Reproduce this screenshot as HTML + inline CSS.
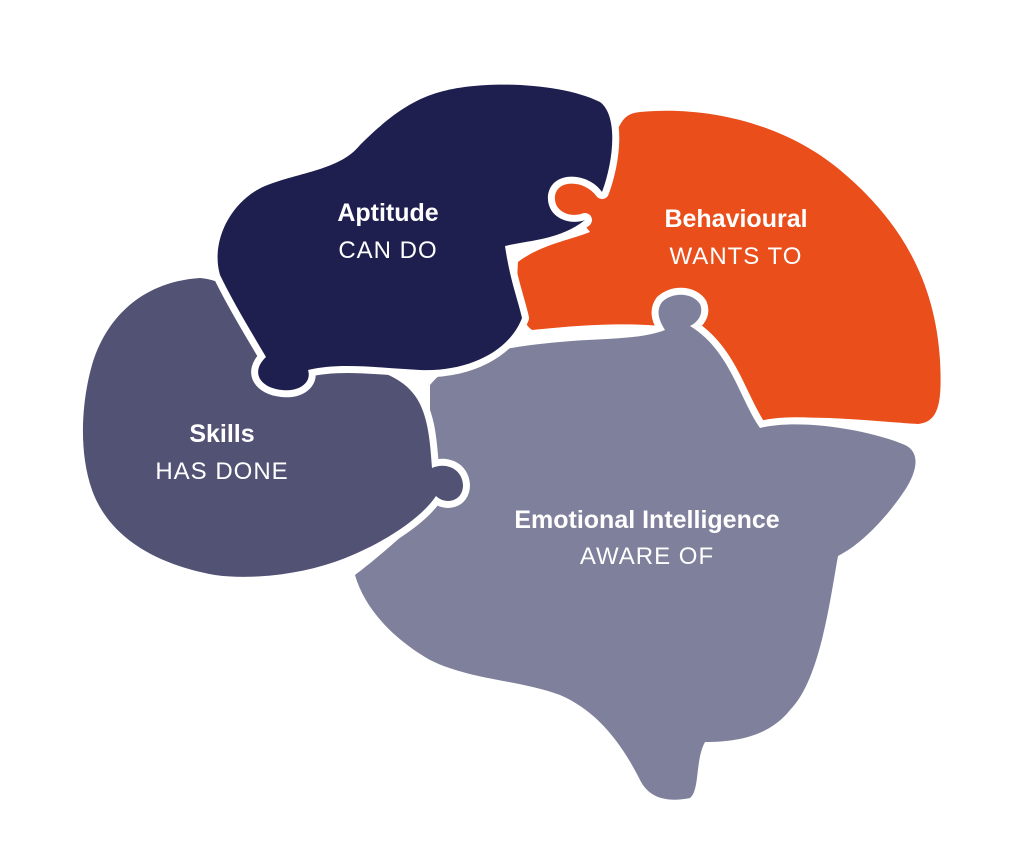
<!DOCTYPE html>
<html><head><meta charset="utf-8"><style>
html,body{margin:0;padding:0;background:#fff;}
svg{display:block;}
.t{font-family:"Liberation Sans",sans-serif;fill:#fff;text-anchor:middle;}
.b{font-weight:bold;font-size:25px;}
.r{font-size:24px;letter-spacing:1px;}
</style></head><body>
<svg width="1024" height="865" viewBox="0 0 1024 865">
<g stroke="#fff" stroke-width="14" stroke-linejoin="round" paint-order="stroke">
<path fill="#e94e1b" d="M640 112 C700 106 780 120 840 170 C900 220 935 280 940 360 C942 400 940 422 918 424 C880 422 800 412 758 422 C740 395 728 350 692 322 C704 316 706 304 696 298 C686 290 666 295 660 305 C657 315 664 322 660 326 C620 322 570 326 532 330 C518 320 516 290 518 262 C540 245 570 240 590 232 C580 215 545 220 545 195 C545 170 580 168 595 190 C605 170 610 140 620 125 C625 115 632 113 640 112 Z"/>
<path fill="#7f809c" d="M430 385 C450 360 490 348 560 342 C600 338 640 340 665 330 C660 322 655 312 662 302 C672 292 692 292 700 304 C704 314 698 322 690 326 C730 350 740 400 760 428 C800 418 870 430 905 445 C920 452 918 470 905 490 C885 520 860 545 838 556 C830 600 820 680 790 710 C770 735 740 742 705 742 C695 760 700 790 690 798 C670 802 650 800 640 780 C620 740 595 710 560 695 C520 680 470 680 430 660 C395 640 365 610 355 575 C375 560 410 530 435 505 C430 470 430 430 430 385 Z"/>
<path fill="#515274" d="M200 278 C240 282 262 315 285 345 C330 360 390 365 412 392 C428 410 430 440 432 468 C445 462 462 468 463 485 C463 502 445 505 436 496 C420 520 380 545 340 560 C300 575 250 580 215 575 C160 565 110 540 92 490 C78 450 82 400 92 365 C105 320 140 282 200 278 Z"/>
<path fill="#1e1f4f" d="M440 92 C480 80 560 82 600 102 C618 115 614 160 602 192 C588 172 552 170 548 195 C546 218 570 226 585 220 C560 240 530 240 505 246 C510 280 518 300 522 318 C510 350 470 372 420 370 C380 368 340 362 308 370 C312 382 300 392 282 390 C260 388 250 372 266 357 C250 330 232 300 220 275 C210 240 232 200 265 186 C300 172 340 170 360 145 C385 120 410 100 440 92 Z"/>
</g>
<text class="t b" x="388" y="221">Aptitude</text>
<text class="t r" x="388" y="258">CAN DO</text>
<text class="t b" x="736" y="227">Behavioural</text>
<text class="t r" x="736" y="264">WANTS TO</text>
<text class="t b" x="222" y="442">Skills</text>
<text class="t r" x="222" y="479">HAS DONE</text>
<text class="t b" x="647" y="528">Emotional Intelligence</text>
<text class="t r" x="647" y="564">AWARE OF</text>
</svg>
</body></html>
